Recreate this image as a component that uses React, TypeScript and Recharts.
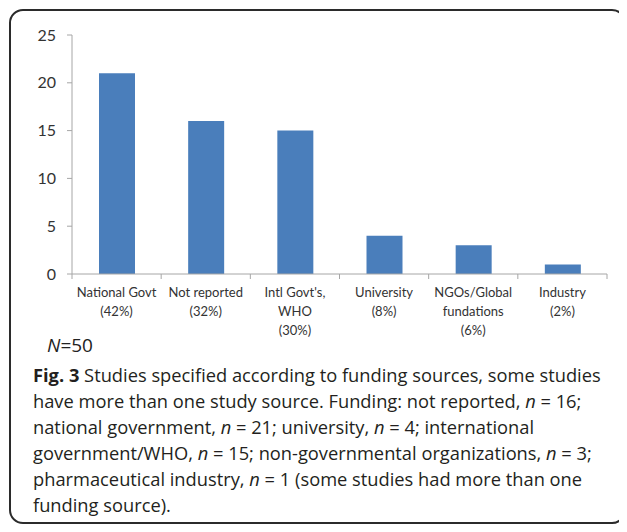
import React from "react";
import { BarChart, Bar, XAxis, YAxis } from "recharts";

const CATEGORIES = ["National Govt", "Not reported", "Intl Govt's, WHO", "University", "NGOs/Global fundations", "Industry"];
const CATEGORY_LINES = [
  ["National Govt", "(42%)"],
  ["Not reported", "(32%)"],
  ["Intl Govt's,", "WHO", "(30%)"],
  ["University", "(8%)"],
  ["NGOs/Global", "fundations", "(6%)"],
  ["Industry", "(2%)"],
];
const VALUES = [21, 16, 15, 4, 3, 1];
const Y_TICKS = [0, 5, 10, 15, 20, 25];

const data = CATEGORIES.map((c, i) => ({ name: c, value: VALUES[i] }));

const CHART_W = 627;
const CHART_H = 360;
const M_LEFT = 72;
const M_RIGHT = 20;
const BAND = (CHART_W - M_LEFT - M_RIGHT) / CATEGORIES.length;
const AXIS_COLOR = "#a6a6a6";

const XTick = (props: any) => {
  const { x, y, payload, index } = props;
  const lines = CATEGORY_LINES[index] || [payload.value];
  const left = x - BAND / 2;
  return (
    <g>
      <line x1={left} y1={y} x2={left} y2={y + 5} stroke={AXIS_COLOR} />
      {index === CATEGORIES.length - 1 && (
        <line x1={x + BAND / 2} y1={y} x2={x + BAND / 2} y2={y + 5} stroke={AXIS_COLOR} />
      )}
      <text x={x} y={y} textAnchor="middle" fontFamily="Lato" fontSize={13} fill="#333">
        {lines.map((l: string, i: number) => (
          <tspan key={i} x={x} y={y + 23 + i * 19}>{l}</tspan>
        ))}
      </text>
    </g>
  );
};

export default function App() {
  return (
    <div style={{ position: "relative", width: 611, height: 516 }}>
      <div
        style={{
          position: "absolute",
          left: 1,
          top: 1,
          width: 617,
          height: 515,
          border: "2px solid #2b2b2b",
          borderRadius: 14,
          boxSizing: "border-box",
        }}
      />
      <div style={{ position: "absolute", left: -8, top: -8 }}>
        <BarChart
          width={CHART_W}
          height={CHART_H}
          data={data}
          margin={{ top: 35, right: M_RIGHT, bottom: 26, left: 0 }}
        >
          <XAxis
            dataKey="name"
            height={60}
            interval={0}
            tickLine={false}
            tickSize={0}
            tickMargin={0}
            axisLine={{ stroke: AXIS_COLOR }}
            tick={<XTick />}
          />
          <YAxis
            width={M_LEFT}
            domain={[0, 25]}
            ticks={Y_TICKS}
            interval={0}
            tickSize={5}
            tickMargin={11}
            axisLine={{ stroke: AXIS_COLOR }}
            tickLine={{ stroke: AXIS_COLOR }}
            tick={{ fontFamily: "Lato", fontSize: 16, fill: "#333" }}
          />
          <Bar dataKey="value" fill="#4a7ebb" barSize={36} isAnimationActive={false} />
        </BarChart>
      </div>
      <div
        style={{
          position: "absolute",
          left: 39,
          top: 326,
          fontFamily: "Open Sans",
          fontSize: 19,
          lineHeight: "22px",
          color: "#222",
        }}
      >
        <i>N</i>=50
      </div>
      <div
        style={{
          position: "absolute",
          left: 25,
          top: 354,
          fontFamily: "Open Sans",
          fontSize: 18.3,
          lineHeight: "26px",
          color: "#231f20",
          whiteSpace: "nowrap",
        }}
      >
        <div><b>Fig. 3</b> Studies specified according to funding sources, some studies</div>
        <div>have more than one study source. Funding: not reported, <i>n</i> = 16;</div>
        <div>national government, <i>n</i> = 21; university, <i>n</i> = 4; international</div>
        <div>government/WHO, <i>n</i> = 15; non-governmental organizations, <i>n</i> = 3;</div>
        <div>pharmaceutical industry, <i>n</i> = 1 (some studies had more than one</div>
        <div>funding source).</div>
      </div>
    </div>
  );
}
